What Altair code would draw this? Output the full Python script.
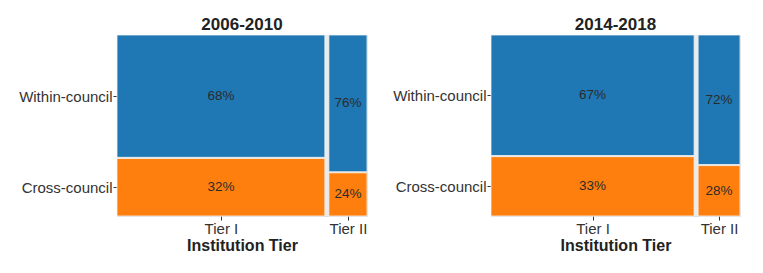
import altair as alt
import pandas as pd

periods = ["2006-2010", "2014-2018"]
tiers = ["Tier I", "Tier II"]
categories = ["Within-council", "Cross-council"]
tier_share = [[0.845, 0.155], [0.829, 0.171]]
within_pct = [[68, 76], [67, 72]]
cross_pct = [[32, 24], [33, 28]]

colors = {"Within-council": "#1f77b4", "Cross-council": "#ff7f0e"}
GAPX = 0.016
GAPY = 0.006
FONT = "Liberation Sans"


def panel(i, w):
    rows = []
    x0 = 0.0
    usable = 1 - GAPX
    for j, t in enumerate(tiers):
        wdt = tier_share[i][j] * usable
        c = cross_pct[i][j] / 100
        segs = [("Cross-council", 0.0, c * (1 - GAPY), cross_pct[i][j]),
                ("Within-council", c * (1 - GAPY) + GAPY, 1.0, within_pct[i][j])]
        for cat, y0, y1, p in segs:
            rows.append(dict(tier=t, cat=cat, x=x0, x2=x0 + wdt, y=y0, y2=y1,
                             xm=x0 + wdt / 2, ym=(y0 + y1) / 2, lab=f"{p}%"))
        x0 += wdt + GAPX
    df = pd.DataFrame(rows)
    xmids = sorted(df["xm"].unique().tolist())
    t1 = df[df.tier == "Tier I"]
    ymids = t1["ym"].tolist()

    xscale = alt.Scale(domain=[0, 1], nice=False, zero=False)
    yscale = alt.Scale(domain=[0, 1], nice=False, zero=False)
    xaxis = alt.Axis(values=xmids, labelExpr="datum.value < 0.5 ? 'Tier I' : 'Tier II'",
                     grid=False, domain=False, tickSize=4, tickColor="#333333",
                     labelColor="#333333", labelFontSize=15, labelFont=FONT, labelPadding=1,
                     title="Institution Tier", titleFont=FONT, titleFontSize=16,
                     titleFontWeight="bold", titleColor="#222222", titlePadding=1)
    yaxis = alt.Axis(values=ymids, labelExpr="datum.value > 0.5 ? 'Within-council' : 'Cross-council'",
                     grid=False, domain=False, tickSize=4, tickColor="#333333",
                     labelColor="#333333", labelFontSize=15, labelFont=FONT, labelPadding=1,
                     title=None)

    bg = alt.Chart(pd.DataFrame({"x": [0], "x2": [1], "y": [0], "y2": [1]})).mark_rect(
        color="#ebebeb").encode(
        x=alt.X("x:Q", scale=xscale, axis=xaxis), x2="x2:Q",
        y=alt.Y("y:Q", scale=yscale, axis=yaxis), y2="y2:Q")
    rects = alt.Chart(df).mark_rect(stroke="#f4f4f4", strokeWidth=0.8).encode(
        x=alt.X("x:Q", scale=xscale), x2="x2:Q",
        y=alt.Y("y:Q", scale=yscale), y2="y2:Q",
        color=alt.Color("cat:N", scale=alt.Scale(domain=list(colors.keys()),
                                                 range=list(colors.values())), legend=None))
    text = alt.Chart(df).mark_text(fontSize=13.5, font=FONT, color="#2b2b2b").encode(
        x=alt.X("xm:Q", scale=xscale), y=alt.Y("ym:Q", scale=yscale), text="lab:N")
    return alt.layer(bg, rects, text).properties(
        width=w, height=181,
        title=alt.TitleParams(periods[i], fontSize=17, font=FONT, fontWeight="bold",
                              anchor="middle", color="#222222", offset=1))


chart = alt.hconcat(panel(0, 250), panel(1, 249), spacing=24).properties(
    padding={"left": 10, "top": 7, "right": 5, "bottom": 5}
).configure_view(strokeWidth=0).configure(background="white")

chart.save("out.html", embed_options={"renderer": "svg", "actions": False})
